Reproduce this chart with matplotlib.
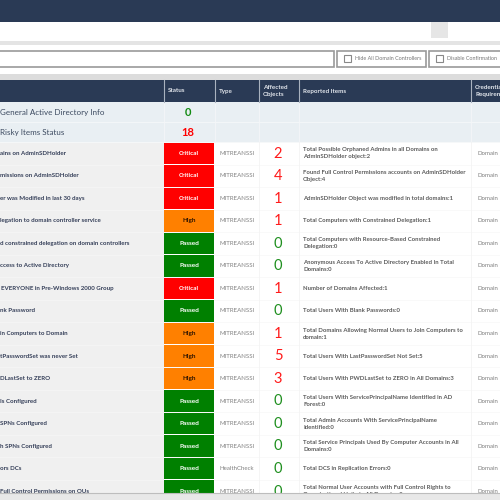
import matplotlib
matplotlib.use("Agg")
import matplotlib.pyplot as plt
from matplotlib.patches import Rectangle

names = ["ains on AdminSDHolder", "missions on AdminSDHolder", "er was Modified in last 30 days",
         "legation to domain controller service", "d constrained delegation on domain controllers",
         "ccess to Active Directory", "EVERYONE in Pre-Windows 2000 Group", "nk Password",
         "in Computers to Domain", "tPasswordSet was never Set", "DLastSet to ZERO",
         "Is Configured", "SPNs Configured", "h SPNs Configured", "ors DCs",
         "Full Control Permissions on OUs"]
name_x = [0, 0, 0, 0, 0, 0, 1, 0, 0, 0, 0, 0, 0, 0, 0, 0]
status = ["Critical", "Critical", "Critical", "High", "Passed", "Passed", "Critical", "Passed",
          "High", "High", "High", "Passed", "Passed", "Passed", "Passed", "Passed"]
types = ["MITREANSSI"] * 14 + ["HealthCheck", "MITREANSSI"]
affected = [2, 4, 1, 1, 0, 0, 1, 0, 1, 5, 3, 0, 0, 0, 0, 0]
reported = ["Total Possible Orphaned Admins in all Domains on\nAdminSDHolder object:2",
            "Found Full Control Permissions accounts on AdminSDHolder\nObject:4",
            "AdminSDHolder Object was modified in total domains:1",
            "Total Computers with Constrained Delegation:1",
            "Total Computers with Resource-Based Constrained\nDelegation:0",
            "Anonymous Access To Active Directory Enabled In Total\nDomains:0",
            "Number of Domains Affected:1",
            "Total Users With Blank Passwords:0",
            "Total Domains Allowing Normal Users to Join Computers to\ndomain:1",
            "Total Users With LastPasswordSet Not Set:5",
            "Total Users With PWDLastSet to ZERO in All Domains:3",
            "Total Users With ServicePrincipalName Identified in AD\nForest:0",
            "Total Admin Accounts With ServicePrincipalName\nIdentified:0",
            "Total Service Principals Used By Computer Accounts in All\nDomains:0",
            "Total DCS in Replication Errors:0",
            "Total Normal User Accounts with Full Control Rights to\nOrganizational Units in All Domains:0"]
summary_labels = ["General Active Directory Info", "Risky Items Status"]
summary_values = [0, 18]
headers = ["Status", "Type", "Affected\nObjects", "Reported Items", "Credentials\nRequirement"]
checkboxes = ["Hide All Domain Controllers", "Disable Confirmation"]

NAVY = "#2a3a55"
STATUS_COL = {"Critical": "#ff0000", "High": "#ff8000", "Passed": "#008000"}
STATUS_TXT = {"Critical": "#ffffff", "High": "#2a1200", "Passed": "#ffffff"}
plt.rcParams["font.family"] = ["Lato", "DejaVu Sans"]

fig = plt.figure(figsize=(5, 5), dpi=100)
ax = fig.add_axes([0, 0, 1, 1])
ax.set_xlim(0, 500)
ax.set_ylim(500, 0)
ax.axis("off")

def box(x, y, w, h, fc, ec="none", lw=0, z=1):
    ax.add_patch(Rectangle((x, y), w, h, fc=fc, ec=ec, lw=lw, zorder=z))

# page chrome
box(0, 0, 500, 22, NAVY)
box(431, 22, 17, 16, "#e6e6e6")
box(0, 41, 500, 4, "#e4e4e4")
box(0, 45, 500, 27, "#ffffff")
box(-5, 50.5, 338.5, 16.5, "#ffffff", "#999999", 1.2, 2)
box(337, 50.5, 89, 16.5, "#ffffff", "#999999", 1.2, 2)
box(429, 50.5, 80, 16.5, "#ffffff", "#999999", 1.2, 2)
for bx, tx, label in zip([344, 436], [355, 447], checkboxes):
    box(bx, 55, 7, 7, "#ffffff", "#888888", 0.8, 3)
    ax.text(tx, 58.7, label, fontsize=3.9, color="#777777", va="center", zorder=3)
box(0, 74, 500, 6, "#dcdcdc")

# header
box(0, 80, 500, 22, NAVY)
col_edges = [163.5, 214.5, 258.5, 298.5, 470.5]
for cx in col_edges:
    ax.plot([cx, cx], [80, 102], color="#a9b2bf", lw=0.8, zorder=3)
for tx, label in zip([168, 219, 263, 303, 475], headers):
    ax.text(tx, 91, label, color="#e2e6ec", fontsize=4.5, fontweight="bold", va="center",
            linespacing=1.35, zorder=3)

# summary rows
for i, (label, value) in enumerate(zip(summary_labels, summary_values)):
    top = 102 + 20 * i
    box(0, top, 500, 20, "#e9eff3")
    ax.plot([0, 500], [top + 20, top + 20], color="#f6f8f9", lw=0.6, zorder=2)
    ax.text(0.5, top + 10.5, label, color="#3c4a60", fontsize=5.8, va="center", zorder=3)
    ax.text(188, top + 10.5, str(value), color="#ff0000" if value else "#118a11", fontsize=8,
            fontweight="bold", ha="center", va="center", zorder=3)
for cx in col_edges:
    ax.plot([cx, cx], [102, 142], color="#f4f6f8", lw=0.6, zorder=2)

# data rows
ROW0, ROWH = 142, 22.53
for i, (n, nx, s, t, a, r) in enumerate(zip(names, name_x, status, types, affected, reported)):
    top = ROW0 + ROWH * i
    mid = top + ROWH / 2
    box(0, top, 163.5, ROWH, "#f0f0f0")
    box(163.5, top, 336.5, ROWH, "#ffffff")
    box(164, top + 0.5, 50, ROWH - 1, STATUS_COL[s], z=2)
    ax.plot([0, 500], [top, top], color="#f7f7f7", lw=0.5, zorder=1.5)
    ax.text(nx, mid, n, color="#343e58", fontsize=4.4, fontweight="bold", va="center", zorder=3)
    ax.text(189, mid, s, color=STATUS_TXT[s], fontsize=4.6, fontweight="bold",
            ha="center", va="center", zorder=3)
    ax.text(219, mid, t, color="#808080", fontsize=4.4, va="center", zorder=3)
    ax.text(278, mid + 0.3, str(a), color="#ff1a1a" if a else "#1f8f1f", fontsize=10.5,
            ha="center", va="center", zorder=3)
    ax.text(303, mid, r, color="#5c5c5c", fontsize=4.3, fontweight="bold", va="center",
            linespacing=1.5, zorder=3)
    ax.text(477, mid, "Domain", color="#808080", fontsize=4.4, va="center", zorder=3)
for cx in col_edges[2:]:
    ax.plot([cx, cx], [142, 493], color="#f2f2f2", lw=0.5, zorder=2.5)

# bottom band
box(0, 493, 500, 7, "#e8e8e8", z=4)
ax.plot([0, 500], [493, 493], color="#bdbdbd", lw=0.8, zorder=5)

fig.savefig("out.png", dpi=100)
